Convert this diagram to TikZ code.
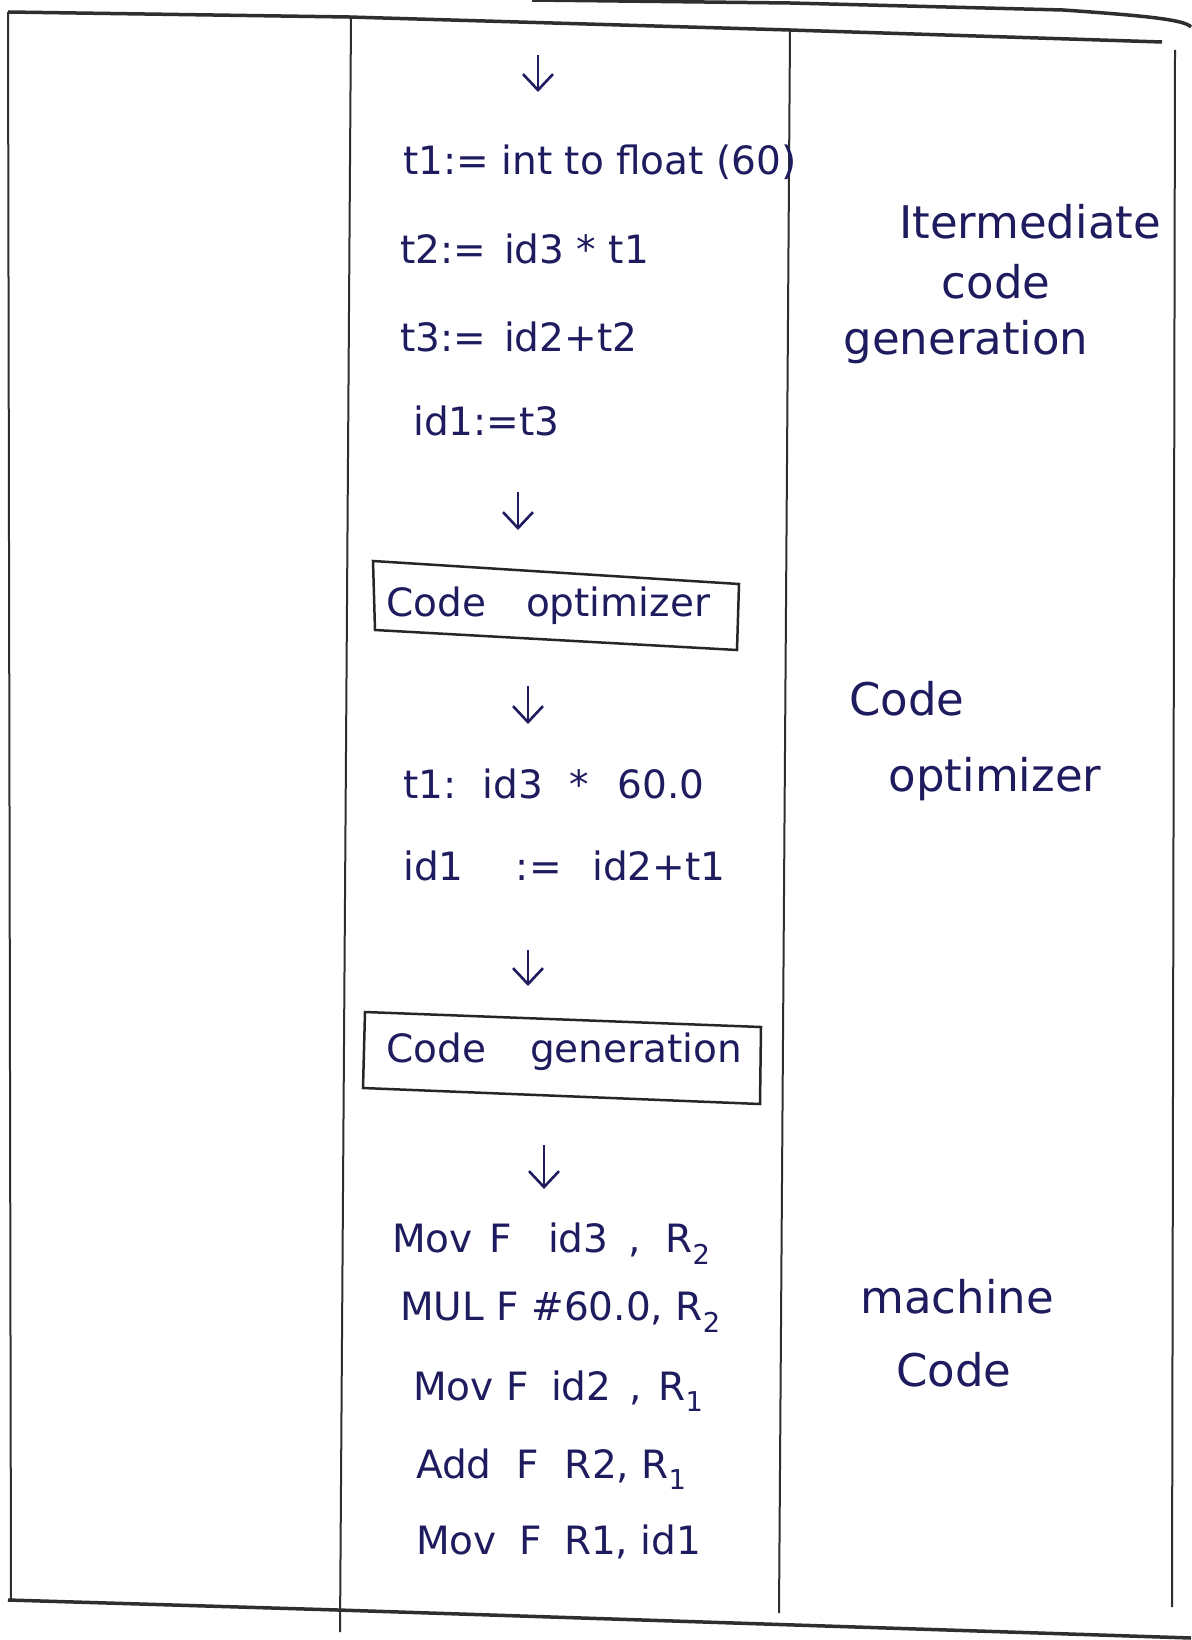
\documentclass[tikz,border=0pt]{standalone}
\usepackage{fontspec}
\setmainfont{DejaVu Sans}
\usetikzlibrary{arrows.meta}
\definecolor{ink}{HTML}{1E1B5E}
\definecolor{rule}{HTML}{2E2E2E}
\tikzset{
  txt/.style={text=ink, font=\fontsize{39}{44}\selectfont, inner sep=0pt, anchor=west},
  rtxt/.style={text=ink, font=\fontsize{45}{50}\selectfont, inner sep=0pt},
  rl/.style={draw=rule, line width=2pt},
  hrl/.style={draw=rule, line width=3.5pt},
  boxed/.style={draw=black!85, line width=2.5pt},
  arw/.style={draw=ink, line width=2.6pt, -{Straight Barb[length=16pt,width=30pt,line width=2.6pt]}}
}
\begin{document}
\begin{tikzpicture}[x=1pt,y=-1pt]
\useasboundingbox (0,0) rectangle (1191,1640);
\fill[white] (0,0) rectangle (1191,1640);
% table lines
\draw[hrl] (8,12) -- (349,17) -- (790,30) -- (1162,42);
\draw[hrl] (532,0) -- (790,3) -- (1063,10) .. controls (1150,16) and (1185,20) .. (1191,27);
\draw[hrl] (8,1600) -- (338,1610) -- (1191,1638);
\draw[rl] (8,12) -- (11,1600);
\draw[rl] (351,17) -- (340,1632);
\draw[rl] (790,30) -- (779,1613);
\draw[rl] (1175,50) -- (1172,1607);
% intermediate code
\coordinate (a1s) at (538,55); \coordinate (a1e) at (538,92);
\draw[arw] (a1s) -- (a1e);
\node[txt] (t1) at (403,162) {t1:= int to float (60)};
\node[txt] (t2) at (400,249) {t2:=\hspace{18pt}id3 * t1};
\node[txt] (t3) at (400,337) {t3:=\hspace{18pt}id2+t2};
\node[txt] (id1) at (413,421) {id1:=t3};
\coordinate (a2s) at (518,492); \coordinate (a2e) at (518,530);
\draw[arw] (a2s) -- (a2e);
% code optimizer box
\draw[boxed] (373,561) -- (739,584) -- (737,650) -- (375,630) -- cycle;
\node[txt] (opt) at (386,606) {Code\hspace{40pt}optimizer};
\coordinate (a3s) at (528,686); \coordinate (a3e) at (528,724);
\draw[arw] (a3s) -- (a3e);
\node[txt] (o1) at (403,784) {t1: \hspace{10pt}id3 \hspace{14pt}* \hspace{16pt}60.0};
\node[txt] (o2) at (403,866) {id1 \hspace{40pt}:= \hspace{18pt}id2+t1};
\coordinate (a4s) at (528,950); \coordinate (a4e) at (528,986);
\draw[arw] (a4s) -- (a4e);
% code generation box
\draw[boxed] (365,1012) -- (761,1027) -- (760,1104) -- (363,1088) -- cycle;
\node[txt] (gen) at (386,1052) {Code\hspace{44pt}generation};
\coordinate (a5s) at (544,1145); \coordinate (a5e) at (544,1189);
\draw[arw] (a5s) -- (a5e);
\node[txt] (m1) at (392,1244) {Mov \hspace{4pt}F \hspace{24pt}id3 \hspace{8pt}, \hspace{12pt}R\textsubscript{2}};
\node[txt] (m2) at (400,1312) {MUL F \#60.0, R\textsubscript{2}};
\node[txt] (m3) at (413,1391) {Mov F \hspace{10pt}id2 \hspace{6pt}, \hspace{4pt}R\textsubscript{1}};
\node[txt] (m4) at (416,1469) {Add \hspace{12pt}F \hspace{14pt}R2, R\textsubscript{1}};
\node[txt] (m5) at (416,1542) {Mov \hspace{10pt}F \hspace{10pt}R1, id1};
% right column labels
\node[rtxt] (r1) at (1030,222) {Itermediate};
\node[rtxt] (r2) at (996,282) {code};
\node[rtxt] (r3) at (966,342) {generation};
\node[rtxt] (r4) at (907,699) {Code};
\node[rtxt] (r5) at (995,779) {optimizer};
\node[rtxt] (r6) at (957,1297) {machine};
\node[rtxt] (r7) at (954,1370) {Code};
\end{tikzpicture}
\end{document}
